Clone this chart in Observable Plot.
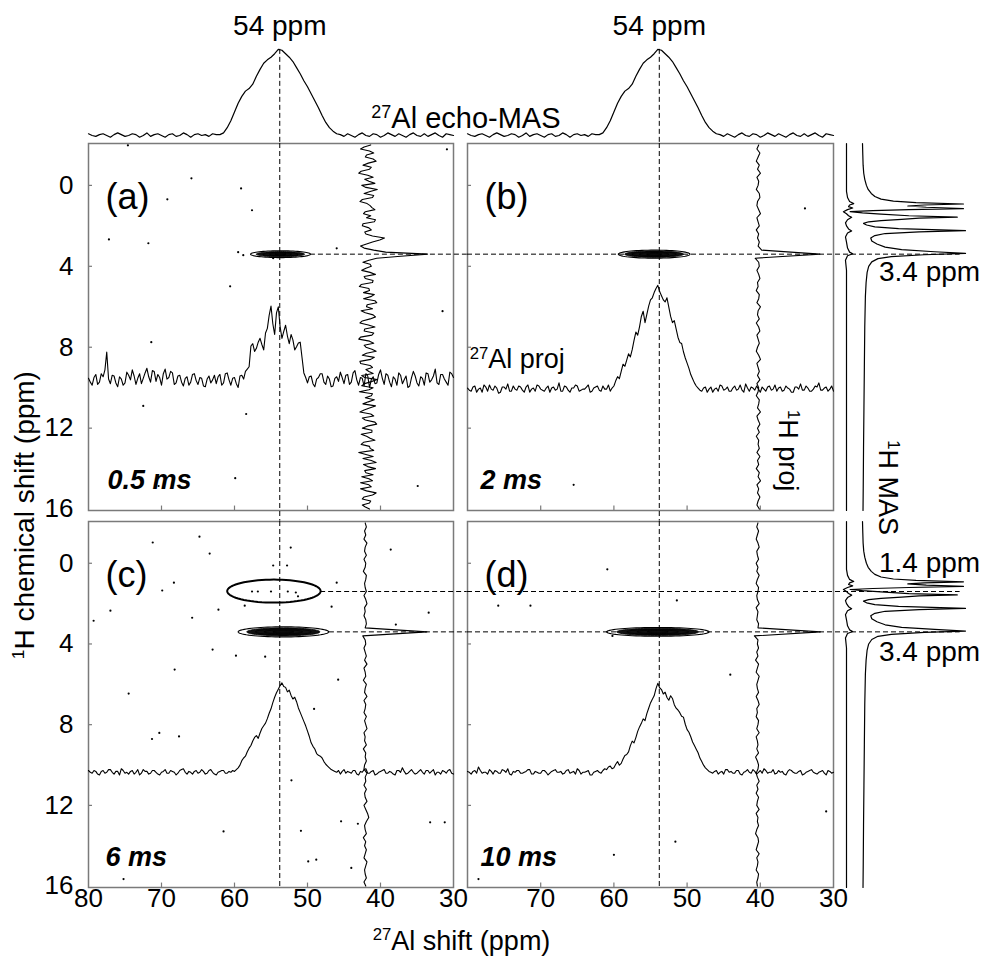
<!DOCTYPE html>
<html><head><meta charset="utf-8">
<script src="https://cdn.jsdelivr.net/npm/d3@7"></script>
<script src="https://cdn.jsdelivr.net/npm/@observablehq/plot@0.6"></script>
<style>
body{margin:0;background:#fff;}
#chart{position:relative;width:990px;height:959px;background:#fff;overflow:hidden;}
</style></head><body><div id="chart"></div>
<script>
// ---------------- DATA ----------------
// Each spectrum is sampled evenly over its axis: 27Al 80 -> 30 ppm, 1H -2 -> 16 ppm.

// 27Al echo-MAS spectrum (top), relative intensity, 0.5 ppm steps
const echoMAS = [2,0,-1,1,2,0,-2,1,3,1,-1,0,2,1,-2,0,3,-1,1,2,0,-2,1,2,-1,0,3,1,-2,1,2,0,1,-1,2,1,1,
3,9,17,27,37,45,51,54,59,68,76,83,87,90,94,99,98,94,90,85,78,71,63,56,48,40,32,23,15,9,5,2,
1,-1,2,0,-2,1,3,0,-1,2,1,-2,0,3,1,-1,2,0,-2,1,3,0,-1,2,-1,1,3,0,-2,2,1,0];

// 27Al projections of the 2D spectra, 0.25 ppm steps
const alProjA = [3,-2,-6,4,8,-5,-2,9,5,14,37,2,-4,7,6,-3,-8,5,2,-6,-3,11,7,1,14,6,-5,3,9,-4,3,10,16,5,-2,13,12,-1,8,4,-6,9,15,2,4,12,10,-5,-3,6,7,-2,-7,3,5,-6,-2,8,9,0,-5,4,3,-7,-8,2,6,-3,1,7,-4,5,8,-6,-3,9,10,1,-6,3,4,-4,-9,6,7,2,12,15,
18,45,48,38,42,50,55,47,40,62,68,85,97,74,60,88,96,70,55,64,72,58,48,60,53,40,44,49,50,30,10,4,
-3,5,6,-4,-8,2,4,9,9,-2,-5,6,2,-8,-7,3,5,-1,11,4,-4,7,8,-5,-2,10,13,1,-6,4,3,-7,9,6,-9,2,5,-4,-3,8,14,3,-5,9,7,-2,-8,5,2,-6,10,7,-4,1,6,-9,-7,4,12,6,-3,-7,5,3,-6,10,9,-2,1,6,15,-3,-5,8,8,2,-2,-6,11,9,4];
const alProjB = [1,-1,-2,2,3,-3,0,1,-3,4,2,-2,4,0,-1,3,1,-4,-3,2,2,0,5,-2,-2,3,0,-1,3,2,-1,-3,2,4,-3,0,1,-2,4,3,0,-1,-2,1,3,-3,1,2,-1,0,6,-2,-2,3,2,-1,-3,1,1,4,3,-2,-1,0,0,2,4,-3,-2,1,2,3,-1,-2,3,0,0,4,-2,1,
3,8,12,10,17,24,22,28,34,31,38,47,55,52,60,70,75,64,72,80,86,88,93,97,100,94,90,86,84,88,79,70,64,66,58,50,45,44,36,30,25,20,14,10,6,3,1,-1,
-2,1,2,-3,0,2,-3,0,1,-2,4,3,-1,0,2,-2,-2,1,3,-1,0,4,-1,-3,5,1,-2,2,1,-1,3,0,-3,2,0,-2,2,3,-1,0,4,-2,1,2,-2,-1,3,1,0,-3,-3,2,2,0,5,-1,-1,3,1,-2,-2,0,3,2,6,-1,-1,1,2,-2,0,3,-2];
const alProjC = [2,0,-1,2,1,-2,-3,1,2,-1,0,3,3,0,-2,1,1,-3,4,2,-1,0,-2,1,2,-2,0,3,-3,-1,3,1,1,-2,-1,2,2,0,-2,-3,0,1,3,-1,-1,2,1,0,-3,-1,2,3,4,0,-2,1,0,-2,1,2,-1,0,3,1,-2,-1,2,3,0,-2,-3,0,1,2,2,-1,-1,1,0,2,
1,3,5,8,13,16,18,23,27,30,35,39,41,38,44,49,52,55,60,66,71,78,84,89,93,97,100,96,95,90,92,86,82,84,79,72,67,62,57,52,46,40,33,29,26,21,19,18,16,12,9,7,5,3,2,1,
0,2,-2,1,3,-1,1,0,-1,2,2,-2,-3,1,0,3,4,-1,-1,1,2,-3,-2,0,1,2,3,-1,-1,1,0,-2,-3,2,2,0,5,1,-2,-1,1,3,0,-2,-1,1,3,0,-2,2,2,-1,1,3,-3,0,0,-2,2,1,-1,2,3,-1,-2];
const alProjD = [1,0,-2,1,2,-1,6,2,-1,0,0,-2,3,1,-2,2,1,-1,-1,3,2,0,4,-2,-3,1,0,2,2,-1,-1,0,1,3,3,-2,-2,1,0,-1,-1,2,2,0,-3,-1,1,2,3,0,0,1,-2,-1,2,3,-1,0,1,-2,4,2,-2,0,0,1,2,-3,-3,0,1,2,0,-1,2,4,
3,6,7,4,5,9,12,8,10,15,19,20,23,30,35,33,39,46,51,55,60,58,66,72,78,82,86,94,100,95,93,88,90,84,81,86,83,76,72,70,67,63,62,54,48,45,40,34,30,26,22,16,12,8,5,3,1,0,
-1,1,2,-2,0,1,-2,3,3,0,1,-1,-1,2,2,-2,-3,0,1,3,0,-1,3,1,-2,0,2,-1,4,2,-1,0,0,3,-2,-1,2,0,1,-2,-3,1,3,2,0,-1,-1,1,2,-3,-2,0,1,2,3,0,-1,-2,0,1,2,-1,-3,2,1,-1,0];

// 1H projections of the 2D spectra (a: 0.1 ppm steps, b-d: 0.2 ppm steps)
const hProjA = [5,-6,-12,3,10,-2,-4,9,14,1,-8,6,3,-11,-15,0,9,-5,2,12,-10,-3,16,4,-6,10,8,-9,-13,-1,4,7,12,-4,-7,5,-2,13,11,-8,-9,2,6,-5,-3,8,
28,20,8,-2,-12,-6,10,30,100,55,15,2,-8,4,
6,-3,-10,4,13,-6,-4,9,8,-11,-14,2,3,-7,11,5,-7,12,15,-1,-2,8,-11,-4,9,13,4,-9,-13,1,12,-5,-6,10,7,-12,-15,3,10,-6,-3,7,14,-2,-9,11,5,-13,-12,4,8,-3,2,9,-10,-5,16,6,-5,-10,9,2,-14,8,6,-4,11,1,-8,13,3,-6,-13,5,10,-9,-4,12,15,-1,-9,7,7,-11,-2,4,12,-7,-11,3,4,10,-15,-3,9,-8,6,14,-7,0,13,-5,-3,9,-10,2,8,-12,2,6,-12,-2,14,8,-6,-9,5,3,-9,-4,3];
const hProjB = [1,-2,3,0,-3,2,-1,4,-2,1,0,-3,2,3,-1,-2,1,4,-2,0,2,-3,1,-1,2,0,
6,103,-5,1,
2,-2,1,3,-1,0,-3,2,1,-2,4,0,-1,2,-3,1,3,-2,0,2,-1,-3,1,4,-2,0,2,-1,3,-2,1,0,-3,2,1,-1,4,-2,0,3,-1,2,-3,1,0,2,-2,3,-1,1,-3,2,0,4,-2,1,-1,3,0,-2,2];
const hProjC = [0,2,-1,1,-2,3,0,-1,2,-2,1,0,-3,2,1,-1,0,2,-2,1,3,-1,0,-2,1,2,0,
103,-4,0,
1,-2,0,2,-1,3,-2,0,1,-3,2,0,-1,3,-2,1,0,-2,2,-1,1,3,-2,0,-1,2,-3,1,0,2,-1,-2,3,0,1,-2,2,-1,0,3,-2,1,4,6,2,-1,0,2,-3,1,-1,2,0,-2,3,1,-1,0,2,-2,1];
const hProjD = [1,-1,2,0,-2,1,3,-1,0,2,-2,1,-1,3,0,-2,2,1,-1,0,3,-2,1,0,-1,2,1,
105,-5,1,
0,2,-1,1,-3,2,0,-2,3,1,-1,0,2,-2,1,3,-1,0,-2,2,1,-1,3,-2,0,1,-1,2,-3,0,2,1,-2,0,3,-1,1,-2,2,0,-1,3,-2,1,0,2,-1,-3,1,2,0,-2,3,-1,1,0,-2,2,1,-1,0];

// 1H MAS spectra (right), [1H ppm, intensity]
const hMASMain = [[-2.07,0],[-1.5,0.3],[-1.0,0.6],[-0.6,1.2],[-0.3,2.2],[0.0,3.8],[0.2,5.5],[0.4,8.5],[0.55,12],[0.68,18],[0.78,30],[0.85,52],[0.92,98],[0.97,60],[1.02,44],[1.08,62],[1.15,98],[1.2,45],[1.25,10],[1.3,-12],[1.36,0],[1.42,18],[1.5,45],[1.57,92],[1.62,55],[1.68,38],[1.74,18],[1.8,6],[1.88,1],[1.96,4],[2.05,12],[2.14,35],[2.24,100],[2.3,55],[2.38,22],[2.48,12],[2.6,8],[2.75,9],[2.9,14],[3.05,22],[3.18,38],[3.28,70],[3.36,100],[3.43,60],[3.52,28],[3.62,15],[3.78,9],[4.0,6],[4.3,4.5],[4.8,3.5],[5.5,2.8],[7,2.2],[9,1.8],[11,1.4],[13,1],[15,0.7],[16.07,0.5]];
const hMASSide = [[-2.07,0],[0.3,0],[0.6,1],[0.8,3],[0.9,7],[0.97,3],[1.05,2],[1.12,6],[1.2,1],[1.3,-3],[1.4,0],[1.5,2],[1.58,5],[1.7,1],[1.85,-1],[2.0,0],[2.15,2],[2.25,5],[2.35,1],[2.55,-1],[2.8,0],[3.1,1],[3.3,3],[3.38,6],[3.48,1],[3.7,-1],[4.2,0],[16.07,0]];

// noise points in the 2D maps [27Al ppm, 1H ppm]
const dotsA = [[65.9,-0.35],[59.1,0.15],[69.2,0.69],[57.6,1.23],[77.2,2.67],[71.8,2.86],[60.6,4.99],[30.9,-1.78],[31.5,6.22],[71.4,7.75],[46.0,3.11],[54.7,3.6],[72.5,10.9],[58.4,11.3],[59.9,14.47],[34.9,14.86],[70.4,14.86],[74.6,-1.98],[59.5,3.3],[58.8,3.45]];
const dotsB = [[33.9,1.14],[65.5,14.8]];
const dotsC = [[64.8,-1.32],[71.2,-1.03],[63.4,-0.48],[54.7,0.11],[52.8,0.11],[52.3,-0.78],[38.6,-0.68],[68.3,0.96],[69.9,1.35],[46.0,0.96],[77.0,2.35],[62.2,2.3],[58.6,2.1],[46.7,2.15],[79.3,2.85],[65.8,2.7],[33.4,2.45],[37.9,3.04],[63.0,4.28],[59.8,4.58],[55.8,4.63],[57.6,1.4],[56.8,1.4],[55.0,1.4],[52.7,1.4],[51.6,1.45],[51.3,1.64],[68.2,5.27],[74.5,6.46],[45.8,5.77],[49.1,7.22],[70.3,8.41],[71.3,8.71],[67.6,8.58],[52.2,10.76],[45.4,12.79],[43.1,12.91],[50.9,13.26],[61.5,13.29],[33.2,12.84],[31.2,12.84],[49.9,14.78],[48.8,14.69],[44.0,15.1],[75.2,15.65]];
const dotsD = [[60.9,0.3],[51.4,1.84],[75.8,2.1],[71.4,2.1],[60.2,3.6],[44.1,5.52],[31.0,12.3],[51.6,13.8],[60.0,14.45],[78.5,15.65]];

// cross-peak contour levels: centre [27Al, 1H] and half-widths [27Al, 1H]
const peakCentreA = [53.7, 3.4], peakLevelsA = [[4.1,0.17],[3.3,0.13],[2.4,0.09],[1.5,0.06],[0.7,0.03]];
const peakCentreB = [54.5, 3.4], peakLevelsB = [[4.9,0.2],[4.0,0.16],[3.0,0.12],[2.0,0.08],[1.0,0.04]];
const peakCentreC = [53.3, 3.4], peakLevelsC = [[6.2,0.25],[5.0,0.2],[3.8,0.15],[2.6,0.1],[1.4,0.05]];
const peakCentreD = [54.0, 3.4], peakLevelsD = [[7.0,0.22],[5.6,0.18],[4.2,0.13],[2.8,0.09],[1.4,0.05]];
const circleCentreC = [54.6, 1.38], circleHalfC = [6.4, 0.57];

const alPeak = 53.8;       // "54 ppm" line
const xTickLabelsC = [80,70,60,50,40,30];
const xTickLabelsD = [70,60,50,40,30];
const yTickLabels = [0,4,8,12,16];
const innerXTicks = [70,60,50,40];
const innerYTicks = [0,4,8,12];

// ---------------- DRAWING ----------------
const alAxis = arr => arr.map((v, i) => [80 - 50 * i / (arr.length - 1), v]);
const hAxis = arr => arr.map((v, i) => [-2 + 18 * i / (arr.length - 1), v]);

const FONT = "'Liberation Sans', Arial, Helvetica, sans-serif";
const W = 990, H = 959;
const SVG_STYLE = "position:absolute;left:0;top:0;overflow:visible;background:none;max-width:none;";
const HDOM = [-2.07, 16.07];
const dash = {stroke: "black", strokeWidth: 1, strokeDasharray: "5,3"};
const root = document.getElementById("chart");

function ellipse(c, r) {
  return d3.range(73).map(i => {
    const t = i / 72 * 2 * Math.PI;
    return [c[0] + r[0] * Math.cos(t), c[1] + r[1] * Math.sin(t)];
  });
}

const panels = [
  {ml: 88, mr: 537, mt: 143, mb: 449, label: "(a)", time: "0.5 ms", tdx: 19,
   alProj: alProjA, alBase: 9.65, alK: 0.038, hProj: hProjA, hBase: 41.75,
   dots: dotsA, centre: peakCentreA, levels: peakLevelsA, vEnd: 16.6,
   hDash: [[3.4, 49.6, 28.1]], yLabels: true},
  {ml: 467, mr: 157, mt: 143, mb: 449, label: "(b)", time: "2 ms", tdx: 13,
   alProj: alProjB, alBase: 10.07, alK: 0.0513, hProj: hProjB, hBase: 40.3,
   dots: dotsB, centre: peakCentreB, levels: peakLevelsB, vEnd: 16.6,
   hDash: [[3.4, 80, 12.7]], projLabels: true},
  {ml: 88, mr: 537, mt: 521, mb: 72, label: "(c)", time: "6 ms", tdx: 17,
   alProj: alProjC, alBase: 10.36, alK: 0.0443, hProj: hProjC, hBase: 42.1,
   dots: dotsC, centre: peakCentreC, levels: peakLevelsC, vEnd: 16.07,
   hDash: [[1.4, 48.2, 28.1], [3.4, 47.0, 28.1]], yLabels: true, xLabels: xTickLabelsC, circle: true, xTitle: true},
  {ml: 467, mr: 157, mt: 521, mb: 72, label: "(d)", time: "10 ms", tdx: 13,
   alProj: alProjD, alBase: 10.36, alK: 0.0441, hProj: hProjD, hBase: 40.4,
   dots: dotsD, centre: peakCentreD, levels: peakLevelsD, vEnd: 16.07,
   hDash: [[1.4, 80, 12.7], [3.4, 80, 12.7]], xLabels: xTickLabelsD}
];

function panelPlot(p, idx) {
  const outer = ellipse(p.centre, p.levels[0]);
  const inner = p.levels.slice(1).flatMap((r, k) => ellipse(p.centre, r).map(q => ({x: q[0], y: q[1], k})));
  const marks = [
    Plot.frame({stroke: "#7a7a7a", strokeWidth: 1.5}),
    Plot.ruleX(innerXTicks, {x: d => d, y1: HDOM[1], y2: HDOM[1] - 0.22, stroke: "#7a7a7a", strokeWidth: 1.2}),
    Plot.ruleY(innerYTicks, {y: d => d, x1: 80, x2: 79.45, stroke: "#7a7a7a", strokeWidth: 1.2}),
    Plot.dot(p.dots, {x: d => d[0], y: d => d[1], r: 1.1, fill: "black", stroke: null}),
    Plot.ruleX([alPeak], {y1: HDOM[0], y2: p.vEnd, ...dash}),
    ...p.hDash.map(([h, x1, x2]) => Plot.ruleY([h], {x1, x2, ...dash})),
    Plot.line(outer, {x: d => d[0], y: d => d[1], stroke: "black", strokeWidth: 1.1}),
    Plot.line(inner, {x: "x", y: "y", z: "k", stroke: "black", strokeWidth: 0.8, fill: "#111"}),
    Plot.line(alAxis(p.alProj).map(([a, v]) => [a, p.alBase - v * p.alK]), {x: d => d[0], y: d => d[1], stroke: "black", strokeWidth: 1.1}),
    Plot.line(hAxis(p.hProj).map(([h, v]) => [p.hBase - v * 0.082, h]), {x: d => d[0], y: d => d[1], stroke: "black", strokeWidth: 1.1}),
    Plot.text([p.label], {frameAnchor: "top-left", dx: 17, dy: 40, text: d => d, textAnchor: "start", fontSize: 36, fontFamily: FONT}),
    Plot.text([p.time], {frameAnchor: "bottom-left", dx: p.tdx, dy: -22, text: d => d, textAnchor: "start", fontSize: 27, fontWeight: "bold", fontStyle: "italic", fontFamily: FONT})
  ];
  if (p.yLabels) marks.push(Plot.text(yTickLabels, {y: d => d, frameAnchor: "left", dx: -15, textAnchor: "end", text: d => String(d), fontSize: 26, fontFamily: FONT}));
  if (p.xLabels) marks.push(Plot.text(p.xLabels, {x: d => d, frameAnchor: "bottom", dy: 19, text: d => String(d), fontSize: 26, fontFamily: FONT}));
  if (p.circle) marks.push(Plot.line(ellipse(circleCentreC, circleHalfC), {x: d => d[0], y: d => d[1], stroke: "black", strokeWidth: 2}));
  if (p.projLabels) {
    marks.push(Plot.text(["^27Al proj"], {x: 79.7, y: 8.6, text: d => d, textAnchor: "start", fontSize: 27, fontFamily: FONT}));
    marks.push(Plot.text(["^1H proj"], {x: 36.3, y: 11.1, rotate: 90, text: d => d, textAnchor: "start", fontSize: 27, fontFamily: FONT}));
  }
  if (idx === 0) marks.push(Plot.text(["^1H chemical shift (ppm)"], {x: 88.7, y: 16.3, rotate: -90, text: d => d, fontSize: 28, fontFamily: FONT}));
  if (p.xTitle) marks.push(Plot.text(["^27Al shift (ppm)"], {x: 28.9, y: 18.72, text: d => d, fontSize: 27, fontFamily: FONT}));
  return Plot.plot({
    width: W, height: H, marginLeft: p.ml, marginRight: p.mr, marginTop: p.mt, marginBottom: p.mb,
    x: {domain: [80, 30], axis: null}, y: {domain: HDOM, reverse: true, axis: null},
    style: SVG_STYLE, marks
  });
}

function echoPlot(ml, mr, withTitle) {
  const marks = [
    Plot.line(alAxis(echoMAS), {x: d => d[0], y: d => d[1], stroke: "black", strokeWidth: 1.2}),
    Plot.ruleX([alPeak], {y1: d3.max(echoMAS), y2: -9.2, ...dash}),
    Plot.text(["54 ppm"], {x: alPeak, y: 100, dy: -22, text: d => d, fontSize: 28, fontFamily: FONT})
  ];
  if (withTitle) marks.push(Plot.text(["^27Al echo-MAS"], {x: 28.3, y: 19.5, text: d => d, fontSize: 29, fontFamily: FONT}));
  return Plot.plot({
    width: W, height: H, marginLeft: ml, marginRight: mr, marginTop: 48, marginBottom: H - 135,
    x: {domain: [80, 30], axis: null}, y: {domain: [0, 100], axis: null},
    style: SVG_STYLE, marks
  });
}

function sidePlot(data, left, mt, mb, extra) {
  return Plot.plot({
    width: W, height: H, marginLeft: left, marginRight: W - left - 103, marginTop: mt, marginBottom: mb,
    x: {domain: [0, 100], axis: null}, y: {domain: HDOM, reverse: true, axis: null},
    style: SVG_STYLE,
    marks: [Plot.line(data, {x: d => d[1], y: d => d[0], stroke: "black", strokeWidth: 1.2}), ...(extra || [])]
  });
}

const lbl = (s, x, y, o = {}) => Plot.text([s], {x, y, text: d => d, textAnchor: "start", fontSize: 28, fontFamily: FONT, ...o});

panels.forEach((p, i) => root.appendChild(panelPlot(p, i)));
root.appendChild(echoPlot(88, 537, true));
root.appendChild(echoPlot(467, 157, false));
root.appendChild(sidePlot(hMASSide, 846, 143, 449));
root.appendChild(sidePlot(hMASSide, 846, 521, 72));
root.appendChild(sidePlot(hMASMain, 862, 143, 449, [lbl("3.4 ppm", 16, 4.3), lbl("^1H MAS", 24.3, 12.6, {rotate: 90, fontSize: 27})]));
root.appendChild(sidePlot(hMASMain, 862, 521, 72, [lbl("1.4 ppm", 16, -0.03), lbl("3.4 ppm", 16, 4.39)]));

// superscripts: text written as "^27Al ..." gets a raised small prefix
const NS = "http://www.w3.org/2000/svg";
root.querySelectorAll("text").forEach(t => {
  const m = (t.textContent || "").match(/^\^(\d+)(.*)$/);
  if (!m) return;
  while (t.firstChild) t.removeChild(t.firstChild);
  const a = document.createElementNS(NS, "tspan");
  a.setAttribute("font-size", "0.62em");
  a.setAttribute("dy", "-0.565em");
  a.textContent = m[1];
  const b = document.createElementNS(NS, "tspan");
  b.setAttribute("dy", "0.35em");
  b.textContent = m[2];
  t.appendChild(a); t.appendChild(b);
});
</script></body></html>
